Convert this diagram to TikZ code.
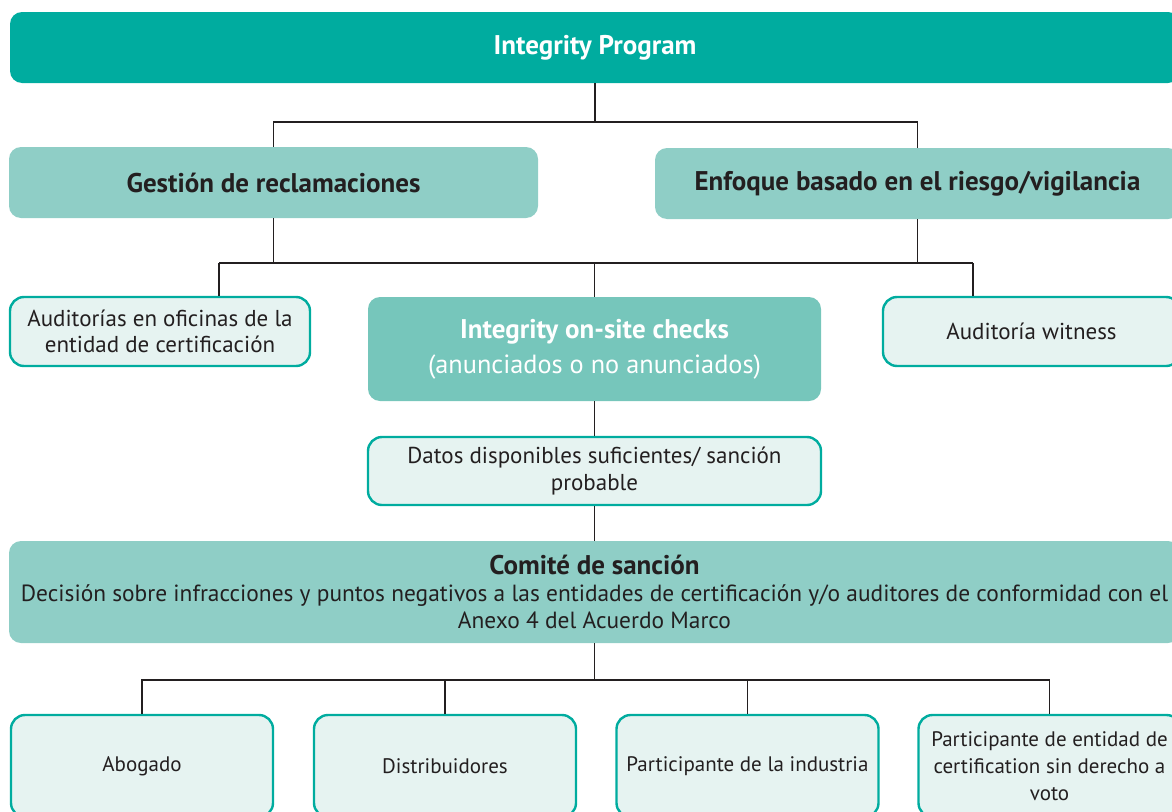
\documentclass[tikz,border=0pt]{standalone}
\usepackage{fontspec}
\setmainfont{PT Sans}
\usepackage{xcolor}
\definecolor{tealdark}{HTML}{00AC9F}
\definecolor{tealmid}{HTML}{8FCEC6}
\definecolor{tealon}{HTML}{76C6BB}
\definecolor{teallight}{HTML}{E6F3F1}
\definecolor{inkdark}{HTML}{231F20}

\begin{document}
\begin{tikzpicture}[x=1pt,y=-1pt,
  top box/.style={rectangle, rounded corners=12pt, fill=tealdark, text=white, inner sep=0pt, align=center, font=\bfseries\fontsize{27}{30}\selectfont},
  head box/.style={rectangle, rounded corners=12pt, fill=tealmid, text=inkdark, inner sep=0pt, align=center, font=\bfseries\fontsize{27}{30}\selectfont},
  leaf box/.style={rectangle, rounded corners=14pt, draw=tealdark, line width=2.4pt, fill=teallight, text=inkdark, inner sep=0pt, align=center, font=\fontsize{23}{26.5}\selectfont},
  low box/.style={leaf box, minimum width=262pt, minimum height=102pt, font=\fontsize{21}{27}\selectfont},
  link/.style={draw=inkdark, line width=1.1pt}]

  \useasboundingbox (0,0) rectangle (1172,811);
  \clip (0,0) rectangle (1172,811);

  \node[top box, minimum width=1170pt, minimum height=71pt] (prog) at (595,47.5) {Integrity Program};
  \node[head box, minimum width=529pt, minimum height=71pt] (gest) at (273.5,182.5) {Gestión de reclamaciones};
  \node[head box, minimum width=525pt, minimum height=71pt] (enf) at (917.5,183.5) {Enfoque basado en el riesgo/vigilancia};

  \node[leaf box, minimum width=300pt, minimum height=69pt] (aud) at (160,331.5) {Auditorías en oficinas de la\\entidad de certificación};
  \node[rectangle, rounded corners=12pt, fill=tealon, text=white, inner sep=0pt, align=center,
        minimum width=453pt, minimum height=104pt, font=\fontsize{26.3}{35}\selectfont] (onsite) at (594.5,349)
        {{\fontsize{27}{35}\selectfont\bfseries Integrity on-site checks}\\(anunciados o no anunciados)};
  \node[leaf box, minimum width=297pt, minimum height=69pt] (wit) at (1031.5,331.5) {Auditoría witness};

  \node[leaf box, minimum width=453pt, minimum height=68pt] (datos) at (594.5,471) {Datos disponibles suficientes/ sanción\\probable};

  \node[head box, minimum width=1171pt, minimum height=102pt, font=\fontsize{23.4}{27}\selectfont] (comite) at (594.5,592)
        {{\fontsize{27}{27}\selectfont\bfseries Comité de sanción}\\Decisión sobre infracciones y puntos negativos a las entidades de certificación y/o auditores de conformidad con el\\Anexo 4 del Acuerdo Marco};

  \node[low box] (abo) at (142,766) {Abogado};
  \node[low box] (dis) at (445,766) {Distribuidores};
  \node[low box] (ind) at (747.5,766) {Participante de la industria};
  \node[low box] (ent) at (1049.5,766) {Participante de entidad de\\certification sin derecho a\\voto};

  \coordinate (j1) at (595,122);
  \coordinate (j2) at (594.5,263);
  \coordinate (j2l) at (219,263);
  \coordinate (j2r) at (973,263);
  \coordinate (j3) at (594.5,680);

  \draw[link] (prog.south) -- (j1);
  \draw[link] (gest.north) |- (j1) -| (enf.north);

  \draw[link] (gest.south) -- (gest.south |- j2);
  \draw[link] (enf.south) -- (enf.south |- j2);
  \draw[link] (j2l) -- (j2r);
  \draw[link] (j2l) -- (j2l |- aud.north);
  \draw[link] (j2) -- (onsite.north);
  \draw[link] (j2r) -- (j2r |- wit.north);

  \draw[link] (onsite.south) -- (datos.north);
  \draw[link] (datos.south) -- (comite.north);

  \draw[link] (comite.south) -- (j3);
  \draw[link] (abo.north) |- (j3) -| (ent.north);
  \foreach \b in {dis,ind}
    \draw[link] (\b.north) -- (\b.north |- j3);
\end{tikzpicture}
\end{document}
